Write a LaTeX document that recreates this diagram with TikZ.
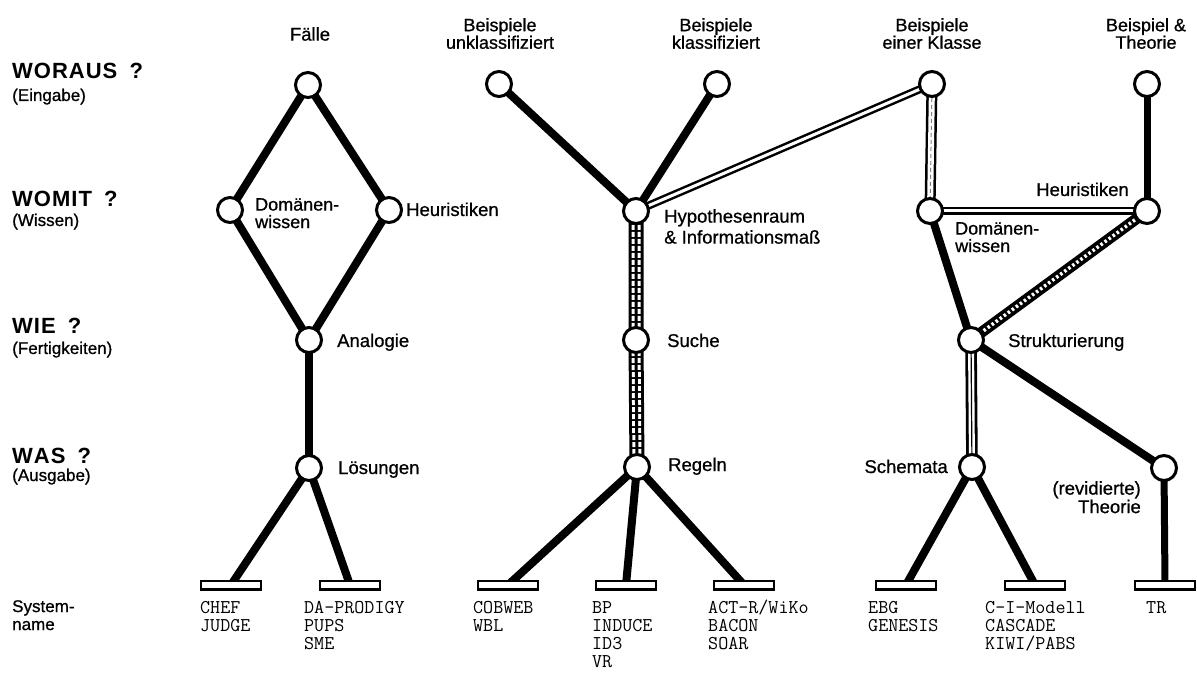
\documentclass[tikz,border=0pt]{standalone}
\usepackage{fontspec}
\setmainfont{Liberation Sans}
\newfontfamily\heavysans[FakeBold=0.8]{Liberation Sans}
\usetikzlibrary{backgrounds}
\begin{document}
\begin{tikzpicture}[x=1pt,y=-1pt,
  stn/.style={circle,draw,line width=3pt,fill=white,minimum size=25pt,inner sep=0pt},
  sysbox/.style={rectangle,draw,line width=2.5pt,fill=white,minimum width=60pt,minimum height=8.5pt,inner sep=0pt},
  lbl/.style={inner sep=0pt,font=\heavysans\fontsize{18.5}{16}\selectfont},
  twoline/.style={inner sep=0pt,font=\heavysans\fontsize{18}{17.5}\selectfont},
  qhead/.style={inner sep=0pt,anchor=base west,font=\bfseries\fontsize{22}{22}\selectfont},
  qsub/.style={inner sep=0pt,anchor=base west,font=\heavysans\fontsize{17}{17}\selectfont},
  sysname/.style={inner sep=0pt,anchor=north west,align=left,font=\ttfamily\fontsize{19.5}{18}\selectfont},
  thickln/.style={line width=8pt,line cap=butt},
  dblln/.style={line width=2.5pt,double=white,double distance=3pt},
]
\useasboundingbox (0,0) rectangle (1197,676);

% ---- left column ----
\node[qhead] (q1) at (12,79) {W\kern1ptO\kern1ptR\kern1ptA\kern1ptU\kern1ptS\hspace{6pt} ?};
\node[qsub] (q1s) at (12,101) {(Eingabe)};
\node[qhead] (q2) at (12,207) {W\kern1ptO\kern1ptM\kern1ptI\kern1ptT\hspace{6pt} ?};
\node[qsub] (q2s) at (12,226) {(Wissen)};
\node[qhead] (q3) at (12,334) {W\kern1ptI\kern1ptE\hspace{6pt} ?};
\node[qsub] (q3s) at (12,354) {(Fertigkeiten)};
\node[qhead] (q4) at (12,463) {W\kern1ptA\kern1ptS\hspace{6pt} ?};
\node[qsub] (q4s) at (12,481) {(Ausgabe)};
\node[inner sep=0pt,anchor=north west,align=left,font=\heavysans\fontsize{17}{18}\selectfont] (q5) at (12,600) {System-\\name};

% ---- stations ----
\node[stn] (f)  at (308,85) {};
\node[stn] (dl) at (230,210) {};
\node[stn] (hl) at (389,210) {};
\node[stn] (an) at (309,340) {};
\node[stn] (lo) at (309,468) {};
\node[stn] (bu) at (499,84) {};
\node[stn] (bk) at (717,84) {};
\node[stn] (hy) at (636,211) {};
\node[stn] (su) at (636,340) {};
\node[stn] (re) at (637,467) {};
\node[stn] (ek) at (932,84) {};
\node[stn] (bt) at (1147,84) {};
\node[stn] (dr) at (930,211) {};
\node[stn] (hr) at (1147,211) {};
\node[stn] (st) at (971,340) {};
\node[stn] (sc) at (972,467) {};
\node[stn] (rt) at (1164,468) {};

% ---- system boxes ----
\node[sysbox] (chef) at (231,585) {};
\node[sysbox] (da)   at (350,585) {};
\node[sysbox] (cob)  at (508,585) {};
\node[sysbox] (bp)   at (626,585) {};
\node[sysbox] (act)  at (744,585) {};
\node[sysbox] (ebg)  at (906,585) {};
\node[sysbox] (ci)   at (1035,585) {};
\node[sysbox] (tr)   at (1165,585) {};

% ---- system names ----
\node[sysname] (nchef) at (200,598) {\rule{0pt}{15pt}CHEF\\JUDGE};
\node[sysname] (nda)   at (304,598) {\rule{0pt}{15pt}DA-PRODIGY\\PUPS\\SME};
\node[sysname] (ncob)  at (473,598) {\rule{0pt}{15pt}COBWEB\\WBL};
\node[sysname] (nbp)   at (592,598) {\rule{0pt}{15pt}BP\\INDUCE\\ID3\\VR};
\node[sysname] (nact)  at (708,598) {\rule{0pt}{15pt}ACT-R/WiKo\\BACON\\SOAR};
\node[sysname] (nebg)  at (868,598) {\rule{0pt}{15pt}EBG\\GENESIS};
\node[sysname] (nci)   at (985,598) {\rule{0pt}{15pt}C-I-Modell\\CASCADE\\KIWI/PABS};
\node[sysname] (ntr)   at (1146,598) {\rule{0pt}{15pt}TR};

% ---- top labels ----
\node[lbl,anchor=north] (tf)  at (310,27) {Fälle};
\node[twoline,anchor=north,align=center] (tbu) at (500,18) {Beispiele\\unklassifiziert};
\node[twoline,anchor=north,align=center] (tbk) at (716,18) {Beispiele\\klassifiziert};
\node[twoline,anchor=north,align=center] (tek) at (932,18) {Beispiele\\einer Klasse};
\node[twoline,anchor=north,align=center] (tbt) at (1146,18) {Beispiel \&\\Theorie};

% ---- station labels ----
\node[twoline,anchor=north west,align=left] (ldl) at (255,198) {Domänen-\\wissen};
\node[lbl,anchor=base west] (lhl) at (406,216) {Heuristiken};
\node[lbl,anchor=base west] (lan) at (337,347) {Analogie};
\node[lbl,anchor=base west] (llo) at (338,474) {Lösungen};
\node[lbl,anchor=north west,align=left,font=\heavysans\fontsize{18.5}{21}\selectfont] (lhy) at (664,209) {Hypothesenraum\\\& Informationsmaß};
\node[lbl,anchor=base west] (lsu) at (667,347) {Suche};
\node[lbl,anchor=base west] (lre) at (668,471) {Regeln};
\node[lbl,anchor=base east] (lhr) at (1129,196) {Heuristiken};
\node[twoline,anchor=north west,align=left] (ldr) at (955,222) {Domänen-\\wissen};
\node[lbl,anchor=base west] (lst) at (1008,347) {Strukturierung};
\node[lbl,anchor=base east] (lsc) at (948,473) {Schemata};
\node[twoline,anchor=north east,align=right,font=\heavysans\fontsize{18.5}{18.5}\selectfont] (lrt) at (1141,481) {(revidierte)\\Theorie};

% ---- connectors ----
\begin{scope}[on background layer]
\fill[white] (0,0) rectangle (1197,676);
% Faelle diamond
\draw[thickln] (f.center) -- (dl.center);
\draw[thickln] (f.center) -- (hl.center);
\draw[thickln] (dl.center) -- (an.center);
\draw[thickln] (hl.center) -- (an.center);
\draw[thickln] (an.center) -- (lo.center);
\draw[thickln] (lo.center) -- (chef.center);
\draw[thickln] (lo.center) -- (da.center);
% Beispiele tree
\draw[thickln] (bu.center) -- (hy.center);
\draw[thickln] (bk.center) -- (hy.center);
\draw[dblln] (ek.center) -- (hy.center);
\draw[line width=15pt] (hy.center) -- (su.center) -- (re.center);
\draw[white,line width=9pt,dash pattern=on 5pt off 2pt] (hy.center) -- (su.center) -- (re.center);
\draw[line width=3pt] (hy.center) -- (su.center) -- (re.center);
\draw[thickln] (re.center) -- (cob.center);
\draw[thickln] (re.center) -- (bp.center);
\draw[thickln] (re.center) -- (act.center);
% einer Klasse
\draw[line width=2.5pt,double=white,double distance=6pt] (ek.center) -- (dr.center);
\draw[gray,line width=1pt,dash pattern=on 4pt off 3pt] (ek.center) -- (dr.center);
\draw[dblln] (dr.center) -- (hr.center);
\draw[line width=7pt] (bt.center) -- (hr.center);
\draw[thickln] (dr.center) -- (st.center);
\draw[line width=11pt] (hr.center) -- (st.center);
\draw[white,line width=3.5pt,dash pattern=on 2.5pt off 2.5pt] (hr.center) -- (st.center);
\draw[line width=2.8pt,double=white,double distance=6pt] (st.center) -- (sc.center);
\draw[line width=1.2pt] (st.center) -- (sc.center);
\draw[thickln] (st.center) -- (rt.center);
\draw[thickln] (sc.center) -- (ebg.center);
\draw[thickln] (sc.center) -- (ci.center);
\draw[line width=7pt] (rt.center) -- (tr.center);
\end{scope}
\end{tikzpicture}
\end{document}
